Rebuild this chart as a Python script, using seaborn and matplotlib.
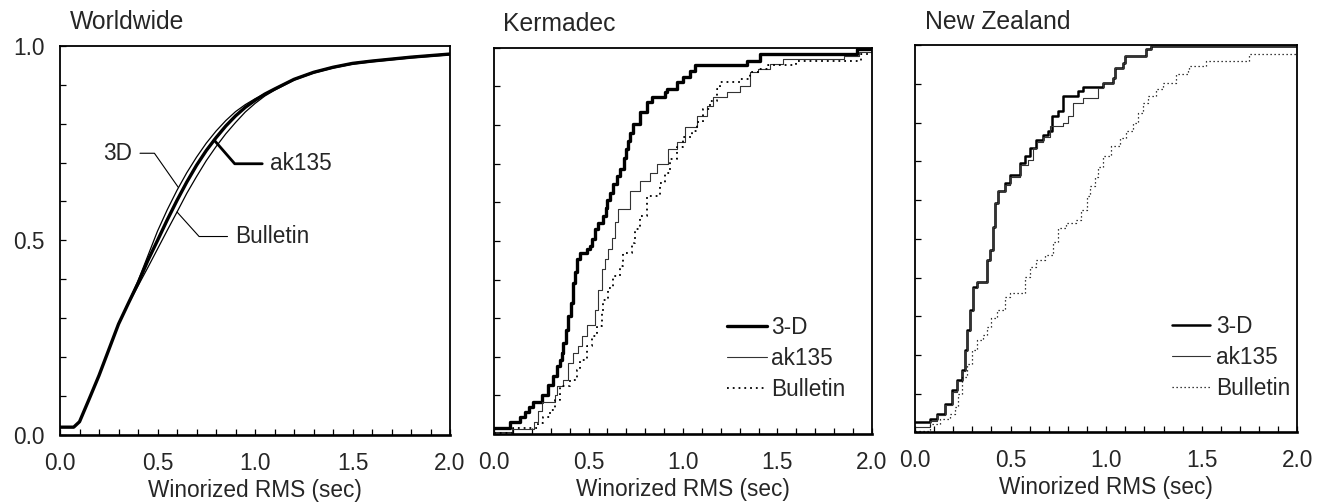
import matplotlib
matplotlib.use("Agg")
import matplotlib.pyplot as plt
from matplotlib.ticker import MultipleLocator
import seaborn as sns

# ---- Worldwide (smooth cumulative curves) ----
ww_x = [0.0, 0.07, 0.1, 0.15, 0.2, 0.25, 0.3, 0.35, 0.4, 0.45, 0.5, 0.55, 0.6, 0.65,
        0.7, 0.75, 0.8, 0.85, 0.9, 0.95, 1.0, 1.05, 1.1, 1.2, 1.3, 1.4, 1.5, 1.6,
        1.7, 1.8, 1.9, 2.0]
ww_3d = [0.020, 0.020, 0.034, 0.093, 0.153, 0.219, 0.285, 0.340, 0.396, 0.460, 0.524,
         0.579, 0.629, 0.674, 0.714, 0.750, 0.781, 0.808, 0.831, 0.849, 0.864, 0.877,
         0.890, 0.915, 0.933, 0.946, 0.956, 0.962, 0.967, 0.972, 0.976, 0.980]
ww_ak135 = [0.020, 0.020, 0.034, 0.093, 0.153, 0.219, 0.285, 0.338, 0.390, 0.448, 0.500,
            0.553, 0.603, 0.650, 0.693, 0.731, 0.764, 0.794, 0.820, 0.842, 0.860, 0.876,
            0.889, 0.914, 0.932, 0.945, 0.955, 0.961, 0.966, 0.971, 0.975, 0.979]
ww_bulletin = [0.020, 0.020, 0.034, 0.093, 0.153, 0.219, 0.285, 0.336, 0.383, 0.430, 0.478,
               0.526, 0.573, 0.621, 0.664, 0.705, 0.741, 0.774, 0.803, 0.830, 0.852, 0.871,
               0.886, 0.912, 0.930, 0.943, 0.953, 0.959, 0.964, 0.969, 0.973, 0.977]

# ---- Kermadec (step curves: x where the step starts, level after it) ----
ker_3d = [(0.0, 0.015), (0.085, 0.030), (0.138, 0.045), (0.164, 0.058), (0.185, 0.070),
          (0.208, 0.084), (0.252, 0.101), (0.287, 0.127), (0.314, 0.149), (0.332, 0.175),
          (0.349, 0.192), (0.358, 0.210), (0.367, 0.236), (0.38, 0.270), (0.393, 0.305),
          (0.405, 0.340), (0.42, 0.391), (0.43, 0.420), (0.438, 0.452), (0.455, 0.469),
          (0.49, 0.478), (0.508, 0.486), (0.52, 0.505), (0.534, 0.530), (0.552, 0.547),
          (0.575, 0.565), (0.59, 0.585), (0.60, 0.605), (0.614, 0.625), (0.632, 0.647),
          (0.65, 0.669), (0.667, 0.686), (0.69, 0.715), (0.70, 0.738), (0.711, 0.760),
          (0.72, 0.780), (0.737, 0.803), (0.772, 0.833), (0.808, 0.859), (0.834, 0.872),
          (0.905, 0.885), (0.914, 0.894), (0.967, 0.911), (1.002, 0.924), (1.037, 0.941),
          (1.063, 0.956), (1.337, 0.967), (1.409, 0.985), (1.92, 0.997), (2.0, 0.997)]
ker_ak135 = [(0.0, 0.005), (0.094, 0.012), (0.21, 0.030), (0.235, 0.060), (0.255, 0.084),
             (0.323, 0.100), (0.332, 0.123), (0.367, 0.140), (0.393, 0.184), (0.42, 0.210),
             (0.446, 0.227), (0.464, 0.253), (0.49, 0.283), (0.534, 0.322), (0.552, 0.374),
             (0.57, 0.426), (0.587, 0.452), (0.605, 0.478), (0.625, 0.508), (0.64, 0.548),
             (0.658, 0.582), (0.72, 0.629), (0.772, 0.655), (0.825, 0.677), (0.861, 0.699),
             (0.922, 0.738), (0.967, 0.755), (1.011, 0.794), (1.072, 0.824), (1.125, 0.850),
             (1.16, 0.872), (1.231, 0.887), (1.30, 0.902), (1.354, 0.937), (1.397, 0.945),
             (1.46, 0.957), (1.53, 0.972), (1.85, 0.980), (1.93, 0.990), (2.0, 0.990)]
ker_bulletin = [(0.0, 0.002), (0.10, 0.015), (0.234, 0.028), (0.261, 0.045), (0.296, 0.062),
                (0.323, 0.088), (0.349, 0.123), (0.402, 0.140), (0.438, 0.166), (0.455, 0.192),
                (0.49, 0.227), (0.517, 0.253), (0.543, 0.279), (0.57, 0.313), (0.578, 0.348),
                (0.605, 0.378), (0.631, 0.409), (0.667, 0.435), (0.684, 0.469), (0.728, 0.495),
                (0.746, 0.530), (0.772, 0.564), (0.808, 0.616), (0.878, 0.651), (0.905, 0.677),
                (0.931, 0.712), (0.967, 0.742), (1.002, 0.768), (1.046, 0.785), (1.072, 0.807),
                (1.108, 0.842), (1.143, 0.863), (1.178, 0.894), (1.196, 0.911), (1.30, 0.920),
                (1.354, 0.937), (1.40, 0.945), (1.45, 0.955), (1.60, 0.965), (1.94, 0.985),
                (2.0, 0.985)]

# ---- New Zealand ----
nz_3d = [(0.0, 0.027), (0.078, 0.035), (0.113, 0.048), (0.157, 0.074), (0.192, 0.109),
         (0.218, 0.135), (0.244, 0.161), (0.261, 0.212), (0.27, 0.264), (0.287, 0.316),
         (0.305, 0.376), (0.322, 0.389), (0.374, 0.446), (0.392, 0.472), (0.409, 0.532),
         (0.418, 0.592), (0.435, 0.623), (0.47, 0.644), (0.496, 0.666), (0.548, 0.696),
         (0.574, 0.713), (0.60, 0.735), (0.635, 0.756), (0.67, 0.769), (0.696, 0.778),
         (0.714, 0.817), (0.748, 0.830), (0.774, 0.869), (0.853, 0.882), (0.879, 0.893),
         (0.983, 0.903), (1.036, 0.916), (1.044, 0.942), (1.088, 0.955), (1.097, 0.972),
         (1.21, 0.990), (1.235, 0.998), (2.0, 0.998)]
nz_ak135 = [(0.0, 0.013), (0.078, 0.030), (0.113, 0.045), (0.157, 0.070), (0.192, 0.105),
            (0.218, 0.132), (0.244, 0.160), (0.261, 0.210), (0.27, 0.262), (0.287, 0.314),
            (0.305, 0.374), (0.322, 0.389), (0.374, 0.446), (0.392, 0.472), (0.409, 0.532),
            (0.418, 0.592), (0.435, 0.623), (0.47, 0.640), (0.496, 0.660), (0.548, 0.690),
            (0.592, 0.705), (0.618, 0.735), (0.64, 0.750), (0.67, 0.762), (0.705, 0.791),
            (0.774, 0.800), (0.80, 0.817), (0.827, 0.852), (0.879, 0.865), (0.957, 0.890),
            (0.983, 0.903), (1.036, 0.916), (1.044, 0.942), (1.088, 0.955), (1.097, 0.972),
            (1.21, 0.990), (1.235, 0.998), (2.0, 0.998)]
nz_bulletin = [(0.0, 0.004), (0.078, 0.023), (0.131, 0.035), (0.183, 0.048), (0.209, 0.066),
               (0.226, 0.100), (0.244, 0.143), (0.27, 0.178), (0.296, 0.212), (0.322, 0.238),
               (0.357, 0.251), (0.374, 0.273), (0.40, 0.295), (0.427, 0.316), (0.47, 0.351),
               (0.496, 0.359), (0.574, 0.402), (0.60, 0.428), (0.635, 0.446), (0.679, 0.459),
               (0.722, 0.493), (0.748, 0.528), (0.792, 0.541), (0.844, 0.549), (0.87, 0.575),
               (0.897, 0.610), (0.914, 0.636), (0.94, 0.661), (0.957, 0.687), (0.983, 0.713),
               (1.027, 0.739), (1.07, 0.761), (1.105, 0.778), (1.14, 0.800), (1.166, 0.826),
               (1.192, 0.852), (1.218, 0.869), (1.262, 0.886), (1.297, 0.903), (1.367, 0.925),
               (1.427, 0.938), (1.435, 0.946), (1.523, 0.959), (1.749, 0.977), (2.0, 0.977)]

titles = ["Worldwide", "Kermadec", "New Zealand"]
xlabel = "Winorized RMS (sec)"

sns.set_theme(style="ticks")
plt.rcParams['font.family'] = ['Liberation Sans', 'DejaVu Sans']
FS = 16.3

fig = plt.figure(figsize=(13.28, 5.04), dpi=100)
ax1 = fig.add_axes([0.0452, 0.137, 0.2937, 0.772])
ax2 = fig.add_axes([0.372, 0.139, 0.2846, 0.766])
ax3 = fig.add_axes([0.689, 0.142, 0.288, 0.768])
axes = [ax1, ax2, ax3]


def step(ax, pairs, **kw):
    xs = [p[0] for p in pairs]
    ys = [p[1] for p in pairs]
    sns.lineplot(x=xs, y=ys, ax=ax, drawstyle="steps-post", estimator=None,
                 sort=False, **kw)


# worldwide
sns.lineplot(x=ww_x, y=ww_3d, ax=ax1, color="black", lw=0.9, estimator=None)
sns.lineplot(x=ww_x, y=ww_ak135, ax=ax1, color="black", lw=2.4, estimator=None)
sns.lineplot(x=ww_x, y=ww_bulletin, ax=ax1, color="black", lw=0.9, estimator=None)

ax1.annotate("3D", xy=(0.607, 0.636), xytext=(0.372, 0.724), ha="right", va="center",
             fontsize=FS, arrowprops=dict(arrowstyle="-", color="black", lw=0.8,
                                          shrinkA=3, shrinkB=0,
                                          connectionstyle="angle,angleA=0,angleB=-55,rad=0"))
ax1.annotate("ak135", xy=(0.79, 0.758), xytext=(1.075, 0.697), ha="left", va="center",
             fontsize=FS, arrowprops=dict(arrowstyle="-", color="black", lw=2.0,
                                          shrinkA=3, shrinkB=0,
                                          connectionstyle="angle,angleA=0,angleB=-49,rad=0"))
ax1.annotate("Bulletin", xy=(0.60, 0.573), xytext=(0.897, 0.51), ha="left", va="center",
             fontsize=FS, arrowprops=dict(arrowstyle="-", color="black", lw=0.8,
                                          shrinkA=3, shrinkB=0,
                                          connectionstyle="angle,angleA=0,angleB=-48,rad=0"))

# kermadec
step(ax2, ker_3d, color="black", lw=2.4, label="3-D")
step(ax2, ker_ak135, color="#333333", lw=0.8, label="ak135")
step(ax2, ker_bulletin, color="black", lw=1.3, linestyle=(0, (1, 2.2)), label="Bulletin")
ax2.legend(loc="lower left", bbox_to_anchor=(0.617, 0.085), frameon=False, fontsize=FS,
           handlelength=1.75, handletextpad=0.2, labelspacing=0.35, borderpad=0,
           borderaxespad=0)

# new zealand
step(ax3, nz_3d, color="black", lw=1.8, label="3-D")
step(ax3, nz_ak135, color="#333333", lw=0.8, label="ak135")
step(ax3, nz_bulletin, color="black", lw=0.9, linestyle=(0, (1, 2.2)), label="Bulletin")
ax3.legend(loc="lower left", bbox_to_anchor=(0.672, 0.085), frameon=False, fontsize=FS,
           handlelength=1.7, handletextpad=0.25, labelspacing=0.35, borderpad=0,
           borderaxespad=0)

for i, ax in enumerate(axes):
    ax.set_xlim(0, 2.0)
    ax.set_ylim(0, 1.0)
    ax.set_xticks([0.0, 0.5, 1.0, 1.5, 2.0])
    ax.set_xticklabels(["0.0", "0.5", "1.0", "1.5", "2.0"])
    ax.set_yticks([0.0, 0.5, 1.0])
    ax.set_yticklabels(["0.0", "0.5", "1.0"])
    ax.xaxis.set_minor_locator(MultipleLocator(0.1))
    ax.yaxis.set_minor_locator(MultipleLocator(0.1))
    ax.tick_params(which="both", direction="in", length=4, width=0.9, color="black",
                   labelsize=FS, top=False, right=False)
    ax.tick_params(axis="x", which="both", pad=12)
    ax.tick_params(axis="y", which="both", pad=11)
    if i > 0:
        ax.tick_params(axis="y", labelleft=False)
    ax.set_xlabel(xlabel, fontsize=FS, labelpad=3)
    ax.set_ylabel("")
    ax.text(0.025, 1.03, titles[i], transform=ax.transAxes, fontsize=FS + 1.5,
            ha="left", va="bottom")
    for side, sp in ax.spines.items():
        sp.set_color("black")
        sp.set_linewidth(1.3)
    ax.spines["bottom"].set_linewidth(1.9)
    ax.set_facecolor("white")

fig.savefig("out.png", dpi=100)
